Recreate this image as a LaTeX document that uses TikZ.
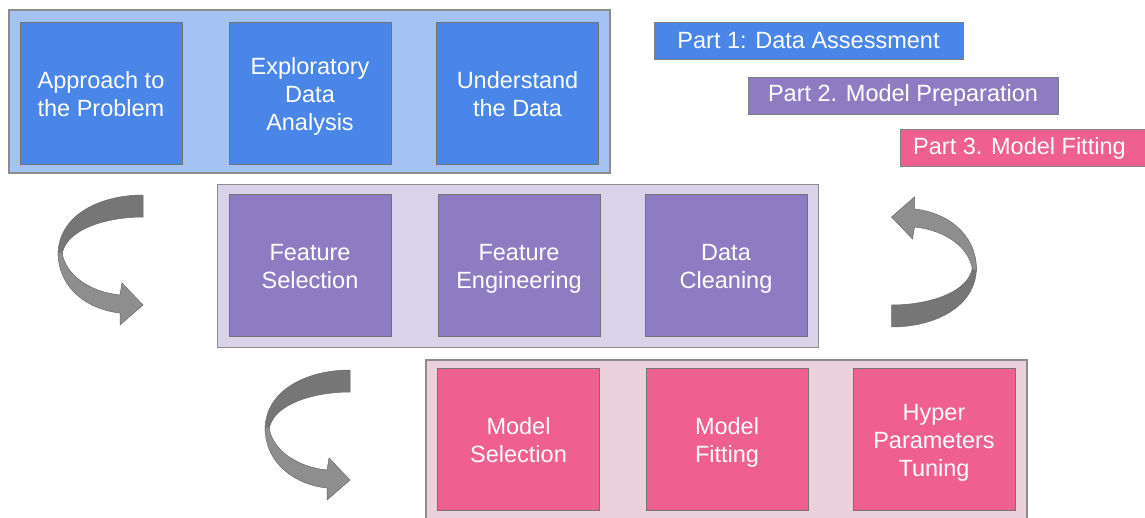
\documentclass[tikz,border=0pt]{standalone}
\usepackage{fontspec}
\setmainfont{Liberation Sans}
\definecolor{blueA}{HTML}{4A86E8}
\definecolor{blueBg}{HTML}{A4C2F4}
\definecolor{purA}{HTML}{8E7CC3}
\definecolor{purBg}{HTML}{D9D2E9}
\definecolor{pinkA}{HTML}{EF5F8F}
\definecolor{pinkBg}{HTML}{EAD1DC}
\definecolor{arrowdark}{HTML}{767676}
\definecolor{arrowlight}{HTML}{8E8E8E}
\definecolor{arrowline}{HTML}{6A6A6A}
\newcommand\boxstrut{\rule[-6pt]{0pt}{33pt}}
\tikzset{
  container/.style={draw=black!45, line width=1.2pt, minimum width=601pt, minimum height=163pt, inner sep=0pt},
  stepbox/.style={draw=black!55, line width=0.8pt, minimum width=162pt, minimum height=142pt, inner sep=0pt},
  boxtext/.style={text=white, align=center, font=\fontsize{23.5}{28}\selectfont, inner sep=0pt,
     execute at begin node=\boxstrut, execute at end node=\boxstrut},
  legend/.style={draw=black!50, line width=0.8pt, minimum height=37pt, inner sep=0pt,
     text=white, font=\fontsize{23.5}{28}\selectfont},
  curvedarrow/.pic={
    \filldraw[fill=arrowdark, draw=arrowline, line width=0.5pt]
      (43,-65) .. controls (0,-65) and (-42,-45) .. (-42,-5)
      -- (-38,-5) .. controls (-35,-30) and (5,-43) .. (43,-43) -- cycle;
    \filldraw[fill=arrowlight, draw=arrowline, line width=0.5pt]
      (-42,-8) .. controls (-42,30) and (-10,50) .. (20,53)
      -- (20,65) -- (43,45) -- (22,23) -- (20,35)
      .. controls (-10,32) and (-35,15) .. (-38,-8) -- cycle;
  }
}
\begin{document}
\begin{tikzpicture}[x=1pt,y=-1pt]
\useasboundingbox (0,0) rectangle (1145,517);
\fill[white] (0,0) rectangle (1145,517);
% containers
\node[container, fill=blueBg] (c1) at (309.5,91.5) {};
\node[container, fill=purBg] (c2) at (518,266) {};
\node[container, fill=pinkBg] (c3) at (726.5,441.5) {};
% part 1
\node[stepbox, fill=blueA] (b11) at (101,93) {};
\node[stepbox, fill=blueA] (b12) at (310,93) {};
\node[stepbox, fill=blueA] (b13) at (517.5,93) {};
% part 2
\node[stepbox, fill=purA] (b21) at (310,265.5) {};
\node[stepbox, fill=purA] (b22) at (519,265.5) {};
\node[stepbox, fill=purA] (b23) at (726,265.5) {};
% part 3
\node[stepbox, fill=pinkA] (b31) at (518.5,439) {};
\node[stepbox, fill=pinkA] (b32) at (727,439) {};
\node[stepbox, fill=pinkA] (b33) at (934,439) {};
% box texts
\node[boxtext] (t11) at ([yshift=-4pt]b11.center) {Approach to\\the Problem};
\node[boxtext] (t12) at ([yshift=-4pt]b12.center) {Exploratory\\Data\\Analysis};
\node[boxtext] (t13) at ([yshift=-4pt]b13.center) {Understand\\the Data};
\node[boxtext] (t21) at ([yshift=-4pt]b21.center) {Feature\\Selection};
\node[boxtext] (t22) at ([yshift=-4pt]b22.center) {Feature\\Engineering};
\node[boxtext] (t23) at ([yshift=-4pt]b23.center) {Data\\Cleaning};
\node[boxtext] (t31) at ([yshift=-4pt]b31.center) {Model\\Selection};
\node[boxtext] (t32) at ([yshift=-4pt]b32.center) {Model\\Fitting};
\node[boxtext] (t33) at ([yshift=-4pt]b33.center) {Hyper\\Parameters\\Tuning};
% legend
\node[legend, fill=blueA, minimum width=309pt] (l1) at (808.5,40.5) {Part 1: Data Assessment};
\node[legend, fill=purA, minimum width=310pt] (l2) at (903,95.5) {Part 2. Model Preparation};
\node[legend, fill=pinkA, minimum width=250pt] (l3box) at (1025,148) {};
\node[text=white, font=\fontsize{23.5}{28}\selectfont, anchor=west, inner sep=0pt] (l3) at (913,148) {Part 3. Model Fitting};
% curved arrows
\pic at (100,260) {curvedarrow};
\pic[rotate=180] at (934.5,262) {curvedarrow};
\pic at (307,435) {curvedarrow};
\end{tikzpicture}
\end{document}
